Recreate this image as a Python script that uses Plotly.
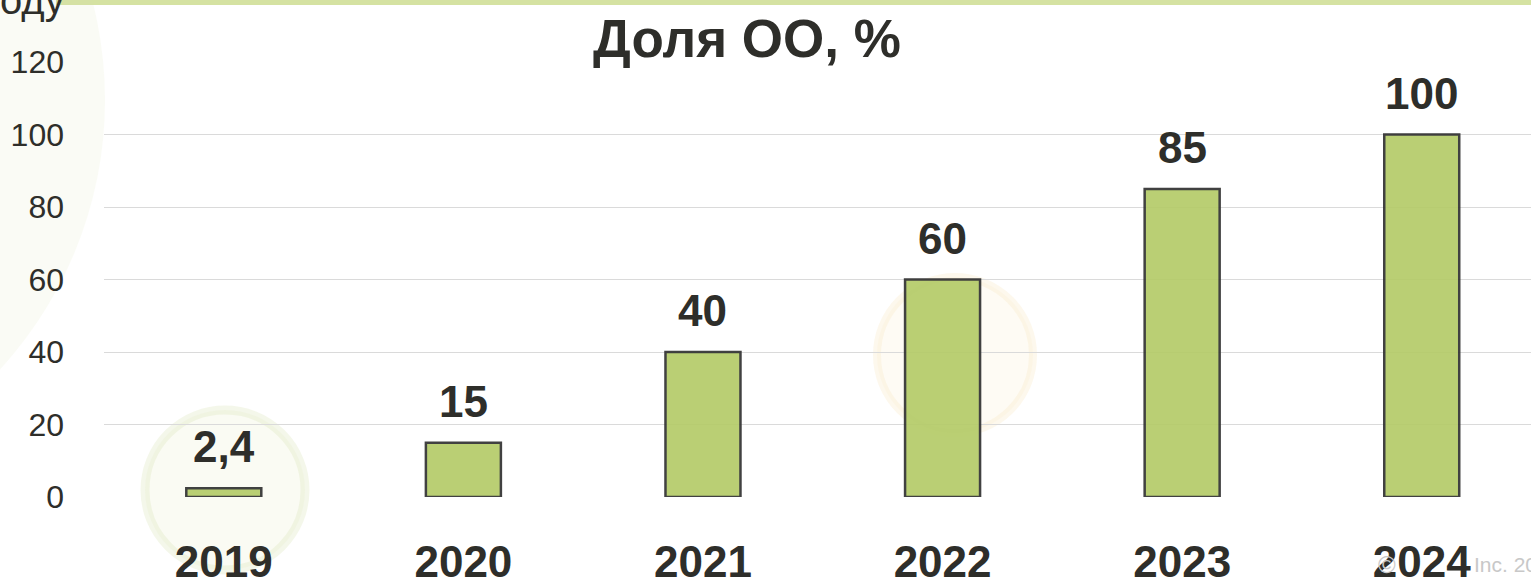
import plotly.graph_objects as go

years = ["2019", "2020", "2021", "2022", "2023", "2024"]
share = [2.4, 15, 40, 60, 85, 100]
labels = [str(v).replace(".", ",") for v in share]
y_ticks = [0, 20, 40, 60, 80, 100, 120]
title_text = "Доля ОО, %"

W, H = 1531, 583
ML, MT, MB = 104, 62, 86
PW, PH = W - ML, H - MT - MB

def px(x):
    return (x - ML) / PW

def py(y):
    return (H - MB - y) / PH

FONT = "Liberation Sans Narrow, Arial Narrow, Liberation Sans, Arial, sans-serif"
TXT = "#2e2e2a"

fig = go.Figure()
fig.add_trace(go.Bar(
    x=years, y=share,
    marker=dict(color="#b5cc6a", line=dict(color="#333333", width=2.5)),
    opacity=0.93,
    width=0.313,
    hoverinfo="skip",
))

for i, (v, lab) in enumerate(zip(share, labels)):
    fig.add_annotation(x=i, y=v, xref="x", yref="y", text="<b>%s</b>" % lab, showarrow=False,
                       xanchor="center", yanchor="bottom", yshift=15,
                       font=dict(family=FONT, size=44, color=TXT))

shapes = [
    # top band
    dict(type="rect", xref="paper", yref="paper", x0=px(56), x1=px(W + 5), y0=py(5), y1=py(-2),
         fillcolor="#d5e2a2", line=dict(width=0), layer="below"),
    # left tinted area
    dict(type="circle", xref="paper", yref="paper", x0=px(-700), x1=px(105), y0=py(500), y1=py(-300),
         fillcolor="rgba(215,225,175,0.13)", line=dict(width=0), layer="below"),
    # faint rings
    dict(type="circle", xref="paper", yref="paper", x0=px(145), x1=px(305), y0=py(570), y1=py(410),
         fillcolor="rgba(230,236,200,0.22)", line=dict(color="rgba(220,228,185,0.3)", width=9), layer="below"),
    dict(type="circle", xref="paper", yref="paper", x0=px(877), x1=px(1033), y0=py(433), y1=py(277),
         fillcolor="rgba(250,238,205,0.22)", line=dict(color="rgba(250,232,195,0.3)", width=8), layer="below"),
]

fig.add_annotation(xref="paper", yref="paper", x=px(-2), y=py(0), xanchor="left", yanchor="bottom",
                   yshift=-24, text="оду", showarrow=False,
                   font=dict(family="Liberation Sans, Arial, sans-serif", size=40, color=TXT))
fig.add_annotation(xref="paper", yref="paper", x=px(1387), y=py(564), xanchor="center", yanchor="middle",
                   text="©", showarrow=False,
                   font=dict(family="Liberation Sans, Arial, sans-serif", size=24, color="#c8c8c8"))
fig.add_annotation(xref="paper", yref="paper", x=px(1472), y=py(564), xanchor="left", yanchor="middle",
                   text="Inc. 20", showarrow=False,
                   font=dict(family="Liberation Sans, Arial, sans-serif", size=21, color="#c8c8c8"))

fig.update_layout(
    width=W, height=H,
    margin=dict(l=ML, r=0, t=MT, b=MB, pad=0, autoexpand=False),
    paper_bgcolor="white", plot_bgcolor="rgba(0,0,0,0)",
    showlegend=False,
    bargap=0.687,
    shapes=shapes,
    title=dict(text="<b>%s</b>" % title_text, x=747 / W, xanchor="center", xref="container",
               y=1 - 38 / H, yanchor="middle", yref="container",
               font=dict(family=FONT, size=53, color=TXT)),
    xaxis=dict(type="category", range=[-0.5, 5.456], showgrid=False, zeroline=False,
               showline=False, ticks="", automargin=False,
               tickfont=dict(family=FONT, size=44, color=TXT),
               tickprefix="<b>", ticksuffix="</b>", ticklabelstandoff=35),
    yaxis=dict(range=[0, 120], tickvals=y_ticks, showgrid=True, gridcolor="#dadada", gridwidth=1.3,
               zeroline=False, showline=False, ticks="", automargin=False,
               tickfont=dict(family=FONT, size=32, color=TXT), ticklabelstandoff=39),
)

fig.write_html("out.html", config={"displayModeBar": False},
               post_script="document.body.style.margin='0';document.body.style.overflow='hidden';")
